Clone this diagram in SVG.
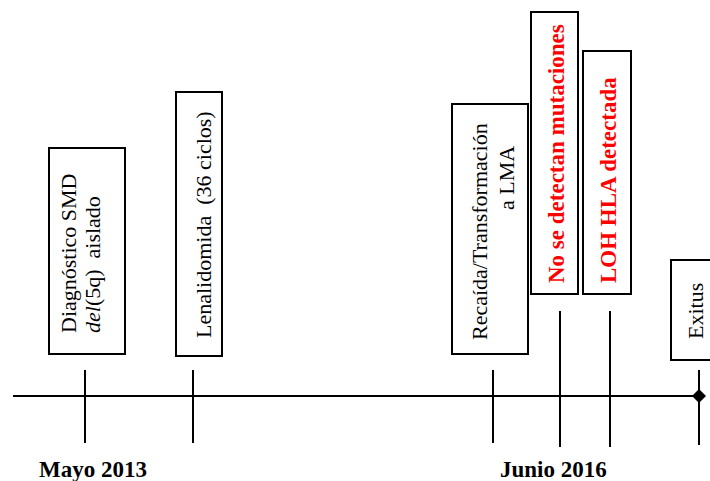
<svg xmlns="http://www.w3.org/2000/svg" width="710" height="481" viewBox="0 0 710 481">
<style>
.box{fill:#fff;stroke:#000;stroke-width:2}
.t{font-family:'Liberation Serif',Tinos,'Times New Roman',Times,serif;font-size:22px;fill:#000}
.r{font-family:'Liberation Serif',Tinos,'Times New Roman',Times,serif;font-size:23px;font-weight:bold;fill:#ff0000}
.lbl{font-family:'Liberation Serif',Tinos,'Times New Roman',Times,serif;font-size:23px;font-weight:bold;fill:#000}
.ln{stroke:#000;stroke-width:2;fill:none}
</style>
<rect width="710" height="481" fill="#fff"/>
<g id="connectors">
<line class="ln" x1="13" y1="396" x2="699" y2="396"/>
<line class="ln" x1="85" y1="370" x2="85" y2="443"/>
<line class="ln" x1="193" y1="370" x2="193" y2="443"/>
<line class="ln" x1="493" y1="370" x2="493" y2="443"/>
<line class="ln" x1="560" y1="311" x2="560" y2="447"/>
<line class="ln" x1="610" y1="311" x2="610" y2="447"/>
<line class="ln" x1="699" y1="370" x2="699" y2="445"/>
<polygon points="699,389 706,396 699,403 692,396" fill="#000"/>
</g>
<g id="diagnostico">
<rect class="box" x="49" y="148" width="76" height="206"/>
<text class="t" font-size="22.8" transform="translate(76,333) rotate(-90)">Diagnóstico SMD</text>
<text class="t" font-size="22.8" transform="translate(100,333) rotate(-90)"><tspan font-style="italic">del</tspan>(5q)&#160; aislado</text>
</g>
<g id="lenalidomida">
<rect class="box" x="176" y="92" width="46" height="264"/>
<text class="t" font-size="21.8" transform="translate(211,338) rotate(-90)">Lenalidomida&#160; (36 ciclos)</text>
</g>
<g id="recaida">
<rect class="box" x="452" y="104" width="76" height="250"/>
<text class="t" font-size="21.5" transform="translate(487,340) rotate(-90)">Recaída/Transformación</text>
<text class="t" font-size="21.5" transform="translate(514,210) rotate(-90)">a LMA</text>
</g>
<g id="mutaciones">
<rect class="box" x="531" y="12" width="47" height="282"/>
<text class="r" font-size="22.6" transform="translate(564,283) rotate(-90)">No se detectan mutaciones</text>
</g>
<g id="loh">
<rect class="box" x="583" y="51" width="48" height="243"/>
<text class="r" transform="translate(616,283) rotate(-90)">LOH HLA detectada</text>
</g>
<g id="exitus">
<rect class="box" x="671" y="260" width="45" height="100"/>
<text class="t" font-size="21" transform="translate(703,339) rotate(-90)">Exitus</text>
</g>
<g id="labels">
<text class="lbl" x="39" y="477">Mayo 2013</text>
<text class="lbl" x="500" y="477">Junio 2016</text>
</g>
</svg>
